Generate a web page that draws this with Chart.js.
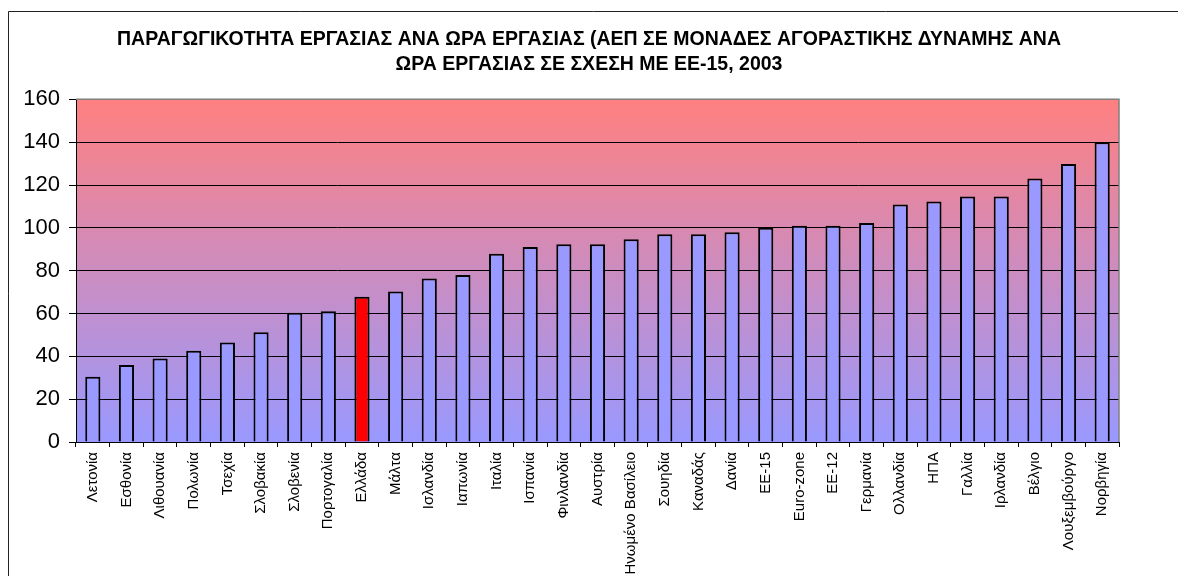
<!DOCTYPE html>
<html>
<head>
<meta charset="utf-8">
<script src="https://cdn.jsdelivr.net/npm/chart.js@4"></script>
<style>
  html, body { margin: 0; padding: 0; background: #fff; overflow: hidden; }
  #wrap { position: relative; width: 1178px; height: 576px; }
</style>
</head>
<body>
<div id="wrap"><canvas id="chart" width="1178" height="576"></canvas></div>
<script>
const countries = [
    'Λετονία', 'Εσθονία', 'Λιθουανία', 'Πολωνία', 'Τσεχία', 'Σλοβακία', 'Σλοβενία',
    'Πορτογαλία', 'Ελλάδα', 'Μάλτα', 'Ισλανδία', 'Ιαπωνία', 'Ιταλία', 'Ισπανία',
    'Φινλανδία', 'Αυστρία', 'Ηνωμένο Βασίλειο', 'Σουηδία', 'Καναδάς', 'Δανία',
    'ΕΕ-15', 'Euro-zone', 'ΕΕ-12', 'Γερμανία', 'Ολλανδία', 'ΗΠΑ', 'Γαλλία',
    'Ιρλανδία', 'Βέλγιο', 'Λουξεμβούργο', 'Νορβηγία'
];
const productivity = [
    30.5, 36, 39, 42.6, 46.5, 51.2, 60.3,
    61.1, 67.8, 70.3, 76.4, 78, 87.9, 91,
    92.4, 92.4, 94.7, 97, 97, 97.9,
    100, 101, 101, 102.3, 110.9, 112.3, 114.6,
    114.6, 123, 129.8, 140
];
const yTicks = [0, 20, 40, 60, 80, 100, 120, 140, 160];
const highlight = 'Ελλάδα';
const titleLines = [
    'ΠΑΡΑΓΩΓΙΚΟΤΗΤΑ ΕΡΓΑΣΙΑΣ ΑΝΑ ΩΡΑ ΕΡΓΑΣΙΑΣ (ΑΕΠ ΣΕ ΜΟΝΑΔΕΣ ΑΓΟΡΑΣΤΙΚΗΣ ΔΥΝΑΜΗΣ ΑΝΑ',
    'ΩΡΑ ΕΡΓΑΣΙΑΣ ΣΕ ΣΧΕΣΗ ΜΕ ΕΕ-15, 2003'
];

const FONT = '"Liberation Sans", Arial, sans-serif';

// gradient plot area + grey border on top/right + outer frame
const plotDecor = {
    id: 'plotDecor',
    beforeDraw(chart) {
        const { ctx, chartArea: a } = chart;
        ctx.save();
        const g = ctx.createLinearGradient(0, a.top, 0, a.bottom);
        g.addColorStop(0, '#ff8080');
        g.addColorStop(1, '#9999ff');
        ctx.fillStyle = g;
        ctx.fillRect(a.left, a.top, a.right - a.left, a.bottom - a.top);
        ctx.restore();
    },
    afterDraw(chart) {
        const { ctx, chartArea: a } = chart;
        ctx.save();
        ctx.strokeStyle = '#808080';
        ctx.lineWidth = 1.5;
        ctx.beginPath();
        ctx.moveTo(a.left, a.top);
        ctx.lineTo(a.right, a.top);
        ctx.lineTo(a.right, a.bottom);
        ctx.stroke();
        ctx.strokeStyle = '#222';
        ctx.lineWidth = 1;
        ctx.beginPath();
        ctx.moveTo(8.5, chart.height);
        ctx.lineTo(8.5, 11.5);
        ctx.lineTo(chart.width, 11.5);
        ctx.stroke();
        ctx.restore();
    }
};

new Chart(document.getElementById('chart'), {
    type: 'bar',
    data: {
        labels: countries,
        datasets: [{
            data: productivity,
            backgroundColor: countries.map(c => c === highlight ? '#ff0000' : '#9999ff'),
            borderColor: '#000',
            borderWidth: 2,
            barPercentage: 0.45,
            categoryPercentage: 1
        }]
    },
    options: {
        responsive: false,
        animation: false,
        layout: { padding: 0 },
        plugins: {
            legend: { display: false },
            tooltip: { enabled: false },
            title: {
                display: true,
                text: titleLines,
                color: '#000',
                font: { family: FONT, size: 19.5, weight: 'bold', lineHeight: 1.24 },
                padding: { top: 28, bottom: 23 }
            }
        },
        scales: {
            x: {
                afterFit(scale) { scale.height = 134; },
                grid: { drawOnChartArea: false, tickLength: 5, color: '#000' },
                border: { color: '#000', width: 1 },
                ticks: {
                    color: '#000',
                    font: { family: FONT, size: 15 },
                    minRotation: 90,
                    maxRotation: 90,
                    autoSkip: false,
                    padding: 5
                }
            },
            y: {
                min: 0,
                max: 160,
                afterFit(scale) { scale.width = 76; },
                afterBuildTicks(scale) { scale.ticks = yTicks.map(v => ({ value: v })); },
                grid: {
                    color: ctx => ctx.tick && ctx.tick.value === 160 ? '#808080' : '#000',
                    tickColor: '#000',
                    tickLength: 7,
                    lineWidth: 1
                },
                border: { color: '#000', width: 1 },
                ticks: {
                    color: '#000',
                    font: { family: FONT, size: 22 },
                    padding: 9
                }
            },
            // empty right-hand spacer so the plot ends where the reference does
            spacer: {
                type: 'linear',
                position: 'right',
                afterFit(scale) { scale.width = 59; },
                grid: { display: false },
                border: { display: false },
                ticks: { display: false }
            }
        }
    },
    plugins: [plotDecor]
});
</script>
</body>
</html>
